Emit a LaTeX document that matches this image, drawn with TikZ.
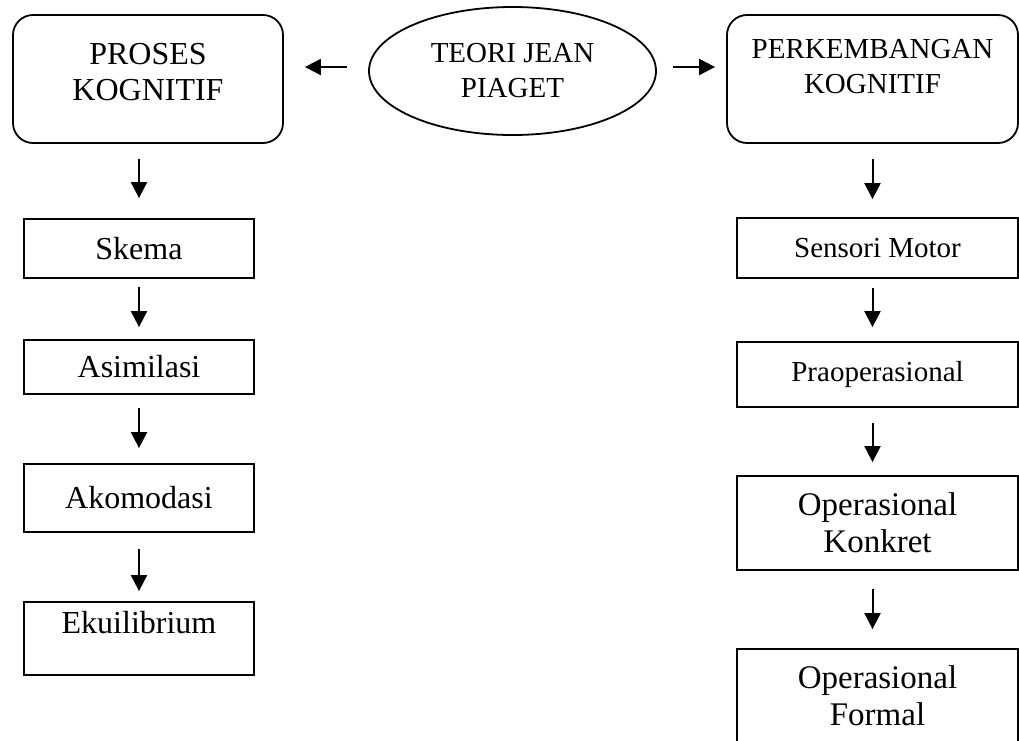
\documentclass[tikz,border=0pt]{standalone}
\usepackage{fontspec}
\setmainfont{Liberation Serif}
\usetikzlibrary{shapes.geometric}
\usetikzlibrary{arrows.meta}

\begin{document}
\begin{tikzpicture}
[x=1pt,y=-1pt,line width=1.8pt,%
  headbox/.style={draw,rounded corners=20pt,minimum height=128pt,inner sep=0pt},%
  headtext/.style={align=center,inner sep=0pt},%
  stage/.style={draw,minimum width=230pt,inner sep=0pt},%
  phase/.style={draw,minimum width=281pt,inner sep=0pt},%
  arr/.style={-{Triangle[width=16pt,length=16pt]},line width=2pt},%
  big/.style={font=\fontsize{32}{36}\selectfont},%
  mid/.style={font=\fontsize{29}{35}\selectfont},%
  wide/.style={font=\fontsize{33}{37}\selectfont,align=center}]
\useasboundingbox (0,0) rectangle (1019,740);
\node[draw,ellipse,minimum width=287pt,minimum height=128pt,inner sep=0pt,
  align=center,mid] (teori) at (512.5,71) {TEORI JEAN\\PIAGET};
\node[headbox,minimum width=270pt] (proses) at (148,79) {};
\node[headtext,big] (prosestext) at (148,72) {PROSES\\KOGNITIF};
\node[headbox,minimum width=291pt] (perkembangan) at (872.5,79) {};
\node[headtext,mid] (perkembangantext) at (872.5,67) {PERKEMBANGAN\\KOGNITIF};
\node[stage,big,minimum height=59pt] (skema) at (139,248.5) {Skema};
\node[stage,big,minimum height=54pt] (asimilasi) at (139,367) {Asimilasi};
\node[stage,big,minimum height=68pt] (akomodasi) at (139,498) {Akomodasi};
\node[stage,big,minimum height=73pt,text height=22pt,text depth=33pt]
  (ekuilibrium) at (139,638.5) {Ekuilibrium};
\node[phase,mid,minimum height=60pt] (sensori) at (877.5,248) {Sensori Motor};
\node[phase,mid,minimum height=65pt] (praoperasional) at (877.5,374.5) {Praoperasional};
\node[phase,wide,minimum height=94pt] (konkret) at (877.5,523) {Operasional\\Konkret};
\node[phase,wide,minimum height=94pt] (formal) at (877.5,696) {Operasional\\Formal};
\draw[arr,shorten <=21pt,shorten >=21pt]
  ([yshift=4pt]teori.west) -- ([yshift=4pt]teori.west -| proses.east);
\draw[arr,shorten <=16pt,shorten >=11pt]
  ([yshift=4pt]teori.east) -- ([yshift=4pt]teori.east -| perkembangan.west);
\foreach \a/\b/\s/\e in {proses/skema/15/20,skema/asimilasi/8/12,
  asimilasi/akomodasi/13/15,akomodasi/ekuilibrium/16/10}
  \draw[arr,shorten <=\s pt,shorten >=\e pt] (\b.north |- \a.south) -- (\b.north);
\foreach \a/\b/\s/\e in {perkembangan/sensori/15/18,sensori/praoperasional/9/14,
  praoperasional/konkret/15/13,konkret/formal/18/19}
  \draw[arr,shorten <=\s pt,shorten >=\e pt]
    (perkembangan.south |- \a.south) -- (perkembangan.south |- \b.north);
\end{tikzpicture}
\end{document}
